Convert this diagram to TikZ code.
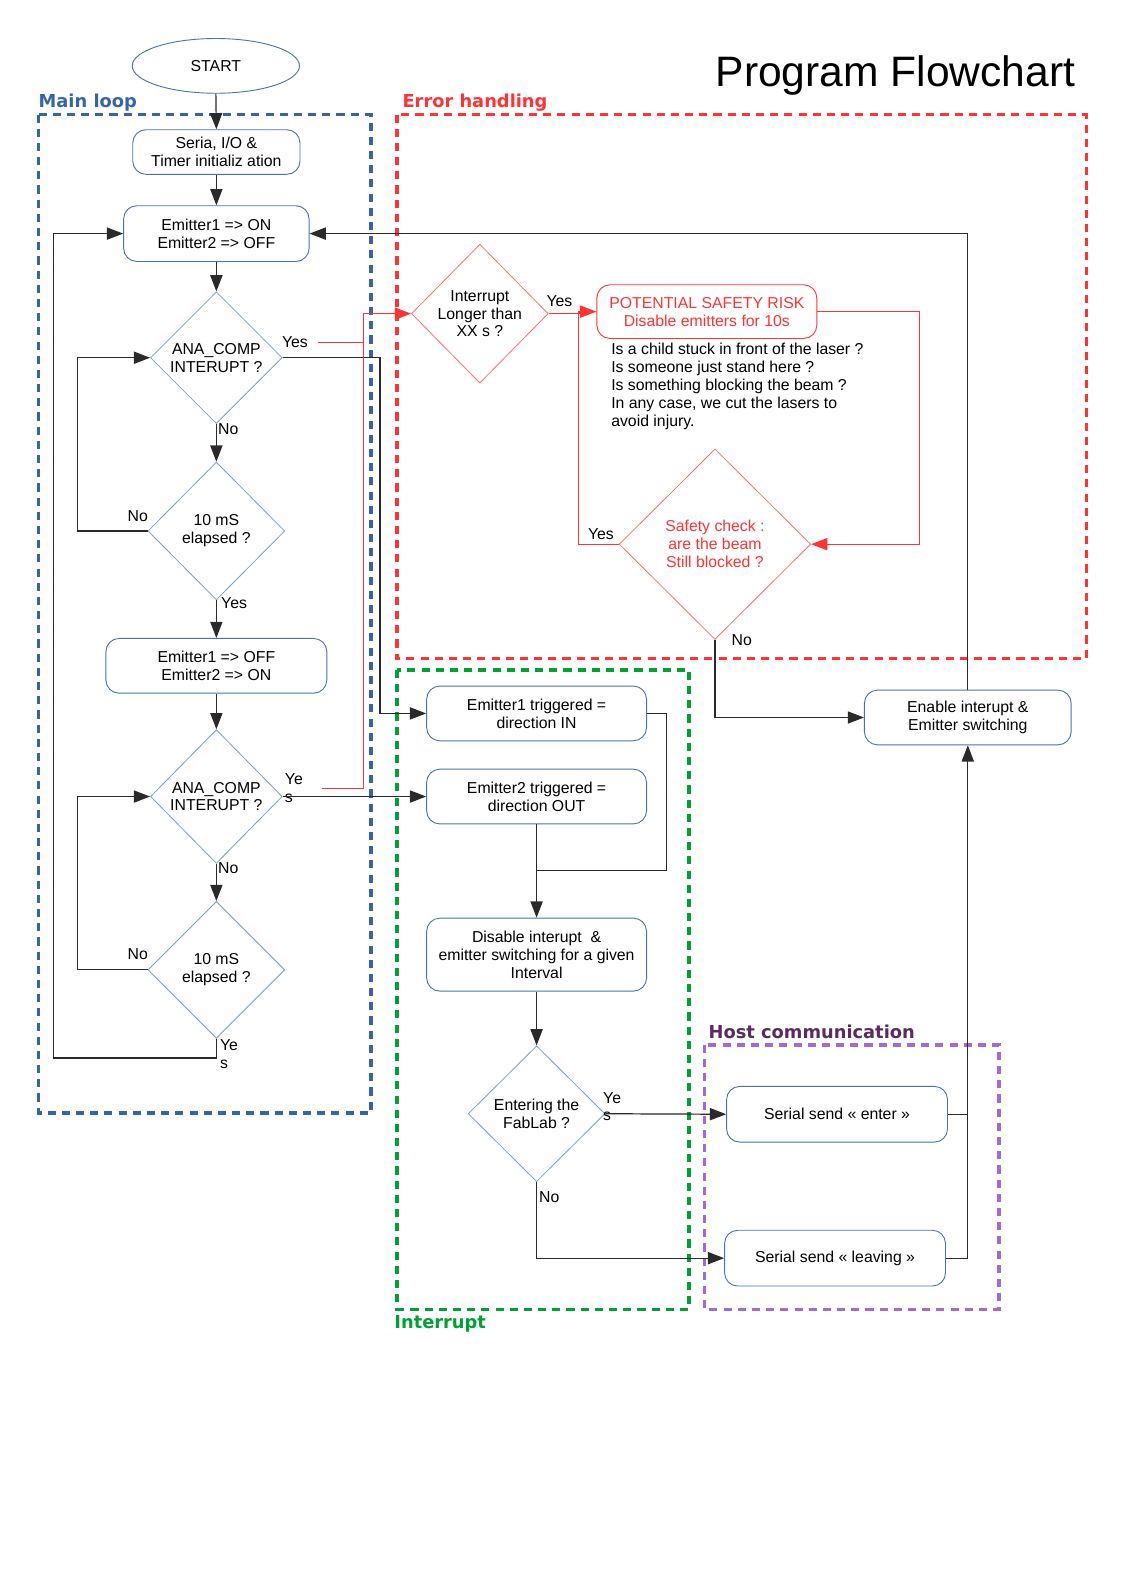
\documentclass[tikz,border=0pt]{standalone}
\usepackage{fontspec}
\setmainfont{Liberation Sans}
\newfontfamily\secfont{DejaVu Sans}
\usetikzlibrary{shapes.geometric,arrows.meta}
\definecolor{mlblue}{HTML}{3465A4}
\definecolor{nodeblue}{HTML}{4A72B0}
\definecolor{diablue}{HTML}{7A9CCB}
\definecolor{ehred}{HTML}{FF3333}
\definecolor{dred}{HTML}{FF6E6E}
\definecolor{igreen}{HTML}{00A033}
\definecolor{hpurple}{HTML}{A06BD6}
\definecolor{hlabel}{HTML}{5B2A5E}
\definecolor{cgrey}{HTML}{2A2A2A}
\begin{document}
\begin{tikzpicture}[x=1pt,y=-1pt,
  txt/.style={font=\fontsize{15.6}{17.7}\selectfont},
  box/.style={txt, draw=nodeblue, line width=0.9pt, rounded corners=13pt, align=center, inner sep=0pt},
  rbox/.style={box, draw=ehred, text=ehred},
  dia/.style={txt, diamond, aspect=1, draw=diablue, line width=0.8pt, align=center, inner sep=0pt},
  rdia/.style={dia, draw=dred},
  lbl/.style={txt, inner sep=0pt},
  conn/.style={draw=cgrey, line width=1.2pt, -{Triangle[length=16pt,width=12pt]}},
  plain/.style={draw=cgrey, line width=1.2pt},
  rconn/.style={draw=ehred, line width=1.2pt, -{Triangle[length=16pt,width=12pt]}},
  rplain/.style={draw=ehred, line width=1.2pt},
  sec/.style={line width=3.5pt, dash pattern=on 8pt off 6pt},
  seclbl/.style={font=\secfont\bfseries\fontsize{17.6}{20}\selectfont, anchor=base west, inner sep=0pt}
]
\fill[white] (0,0) rectangle (1108,1567);
\useasboundingbox (0,0) rectangle (1108,1567);

% title and section frames
\node[anchor=base west, inner sep=0pt, font=\fontsize{42}{48}\selectfont] (title) at (706,85) {Program Flowchart};
\draw[sec, mlblue] (38,113) rectangle (366,1098);
\node[seclbl, text=mlblue] (lmain) at (38,106) {Main loop};
\draw[sec, ehred] (392,113) rectangle (1072,650);
\node[seclbl, text=ehred] (lerr) at (397,106) {Error handling};
\draw[sec, igreen] (392,661) rectangle (680,1292);
\node[seclbl, text=igreen] (lint) at (389,1311) {Interrupt};
\draw[sec, hpurple] (695,1031) rectangle (986,1292);
\node[seclbl, text=hlabel] (lhost) at (699,1025) {Host communication};

% main loop nodes
\node[txt, ellipse, draw=nodeblue, line width=0.9pt, minimum width=165pt, minimum height=54pt, inner sep=0pt] (start) at (213,65) {START};
\node[box, minimum width=165pt, minimum height=44pt] (init) at (213.5,150) {Seria, I/O \&\\Timer initializ ation};
\node[box, minimum width=183pt, minimum height=55pt] (on) at (213.5,230.5) {Emitter1 => ON\\Emitter2 => OFF};
\node[dia, minimum width=130pt, minimum height=130pt] (d1) at (213.5,353) {ANA\_COMP\\INTERUPT ?};
\node[dia, minimum width=135pt, minimum height=136pt] (d2) at (213.5,524) {10 mS\\elapsed ?};
\node[box, minimum width=218pt, minimum height=54pt] (off) at (213.5,657) {Emitter1 => OFF\\Emitter2 => ON};
\node[dia, minimum width=130pt, minimum height=132pt] (d3) at (213.5,786) {ANA\_COMP\\INTERUPT ?};
\node[dia, minimum width=135pt, minimum height=135pt] (d4) at (213.5,957) {10 mS\\elapsed ?};

% error handling nodes
\node[rdia, minimum width=135pt, minimum height=137pt] (d5) at (473.5,309.5) {Interrupt\\Longer than\\XX s ?};
\node[rbox, minimum width=217pt, minimum height=53pt] (risk) at (697.5,307.5) {POTENTIAL SAFETY RISK\\Disable emitters for 10s};
\node[txt, anchor=north west, align=left, inner sep=0pt] (why) at (603,338.5) {Is a child stuck in front of the laser ?\\Is someone just stand here ?\\Is something blocking the beam ?\\In any case, we cut the lasers to\\avoid injury.};
\node[rdia, text=ehred, minimum width=189pt, minimum height=188pt] (d6) at (705.5,537) {Safety check :\\are the beam\\Still blocked ?};
\node[box, minimum width=204pt, minimum height=54pt] (en) at (955,708) {Enable interupt \&\\Emitter switching};

% interrupt nodes
\node[box, minimum width=217pt, minimum height=54pt] (e1t) at (529.5,704) {Emitter1 triggered =\\direction IN};
\node[box, minimum width=217pt, minimum height=54pt] (e2t) at (529.5,786) {Emitter2 triggered =\\direction OUT};
\node[box, minimum width=217pt, minimum height=72pt] (dis) at (529.5,942) {Disable interupt~~\&\\emitter switching for a given\\Interval};
\node[dia, minimum width=135pt, minimum height=134pt] (d7) at (529.5,1099) {Entering the\\FabLab ?};

% host communication nodes
\node[box, minimum width=218pt, minimum height=55pt] (ent) at (826,1099.5) {Serial send « enter »};
\node[box, minimum width=218pt, minimum height=55pt] (lea) at (824,1241.5) {Serial send « leaving »};

% labels
\node[lbl] (y1) at (291,338) {Yes};
\node[lbl, anchor=west] (n1) at (215,423) {No};
\node[lbl] (n2) at (136,509) {No};
\node[lbl] (y2) at (231,595) {Yes};
\node[lbl, anchor=west, align=left, font=\fontsize{15.6}{17.5}\selectfont] (y3) at (281,778) {Ye\\s};
\node[lbl, anchor=west] (n3) at (215,857) {No};
\node[lbl] (n4) at (136,942) {No};
\node[lbl, anchor=west, align=left, font=\fontsize{15.6}{17.5}\selectfont] (y4) at (217,1040) {Ye\\s};
\node[lbl] (y5) at (552,297) {Yes};
\node[lbl] (y6) at (593,527) {Yes};
\node[lbl] (n6) at (732,632) {No};
\node[lbl, anchor=west, align=left, font=\fontsize{15.6}{17.5}\selectfont] (y7) at (595,1092) {Ye\\s};
\node[lbl] (n7) at (542,1181) {No};

\coordinate (r1) at (314,338);
\coordinate (r3) at (318,778);
\coordinate (jn) at (529.5,859);

% main loop connectors
\draw[conn] (start.south) -- (init.north);
\draw[conn] (init.south) -- (on.north);
\draw[conn] (on.south) -- (d1.north);
\draw[conn] (d1.south) -- (d2.north);
\draw[conn] (d2.west) -- ++(-69,0) |- (d1.west);
\draw[conn] (d2.south) -- (off.north);
\draw[conn] (off.south) -- (d3.north);
\draw[conn] (d3.south) -- (d4.north);
\draw[conn] (d4.west) -- ++(-69,0) |- (d3.west);
\draw[conn] (d4.south) -- ++(0,19) -- ++(-160.5,0) |- (on.west);

% main loop to interrupt
\draw[conn] (d1.east) -- ++(96,0) |- (e1t.west);
\draw[conn] (d3.east) -- (e2t.west);

% red paths to error handling
\draw[rplain] (r1) -- ++(45,0);
\draw[rconn] (r3) -- ++(41,0) |- (d5.west);
\draw[rconn] (d5.east) -- ++(30,0) |- (risk.west);
\draw[rplain] (d6.west) -| ([xshift=-18pt]risk.west);
\draw[rconn] (risk.east) -- ++(101,0) |- (d6.east);
\draw[conn] (d6.south) |- (en.west);
\draw[conn] (en.north) |- (on.east);

% interrupt connectors
\draw[plain] (e1t.east) -- ++(19,0) |- (jn);
\draw[conn] (e2t.south) -- (dis.north);
\draw[conn] (dis.south) -- (d7.north);
\draw[conn] (d7.east) -- (ent.west);
\draw[conn] (d7.south) |- (lea.west);
\draw[plain] (ent.east) -- ++(20,0);
\draw[conn] (lea.east) -| (en.south);
\end{tikzpicture}
\end{document}
